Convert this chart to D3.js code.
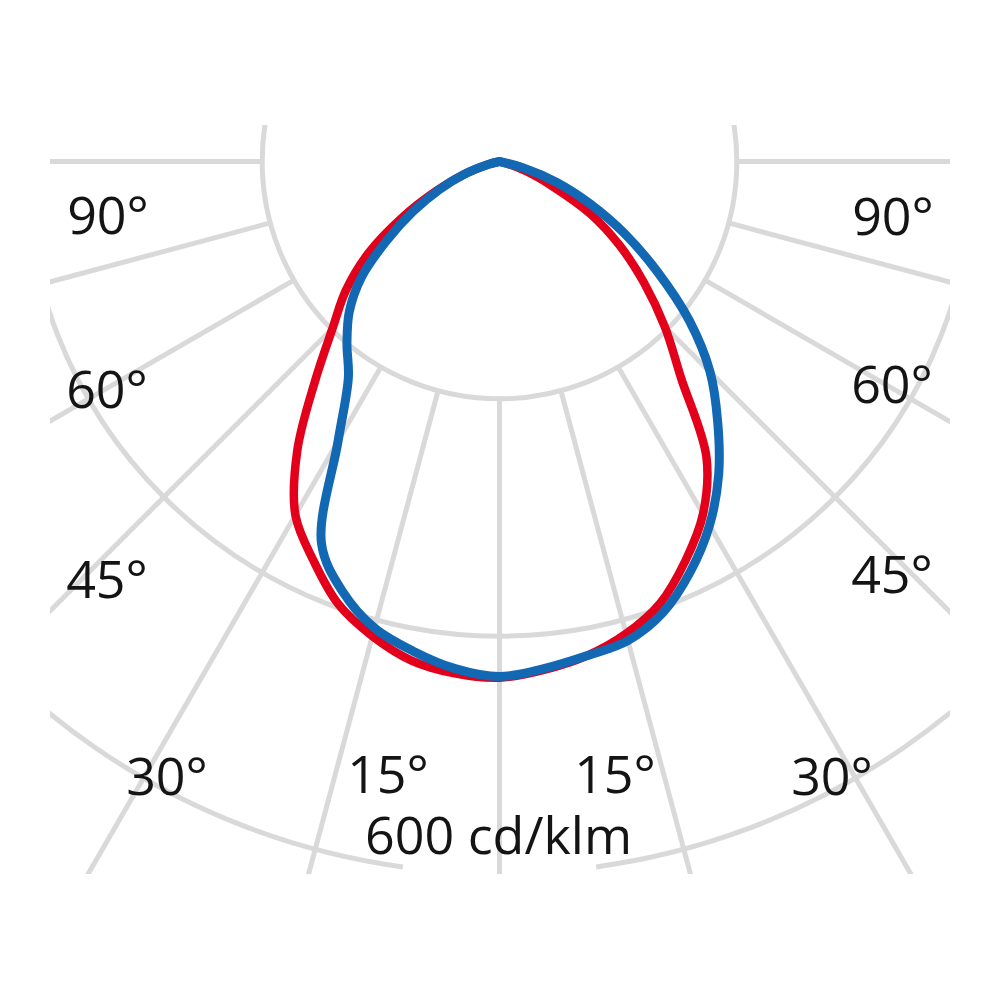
<!DOCTYPE html>
<html>
<head>
<meta charset="utf-8">
<script src="https://cdn.jsdelivr.net/npm/d3@7"></script>
<style>
  html, body { margin: 0; padding: 0; background: #fff; }
  svg { display: block; }
  text { font-family: "Open Sans", "Noto Sans", sans-serif; fill: #141414; }
</style>
</head>
<body>
<div class="app"></div>
<script>
// gamma angles from nadir (deg)
var angles = [0, 5, 10, 15, 20, 25, 30, 35, 40, 45, 50, 55, 60, 65, 70, 75, 80, 85, 90];

// red curve: C180 plane drawn left, C0 plane drawn right (cd/klm)
var redC180 = [435, 433, 427, 414, 397, 371, 344, 297, 242, 199, 169, 135, 95, 59, 32, 10, 0, 0, 0];
var redC0   = [435, 430, 423, 412, 396, 371, 343, 304, 238, 197, 159, 124, 89, 49, 24, 7, 0, 0, 0];

// blue curve: C270 plane drawn left, C90 plane drawn right (cd/klm)
var blueC270 = [434, 429, 419, 407, 386, 355, 272, 222, 200, 179, 152, 116, 84, 56, 32, 10, 0, 0, 0];
var blueC90  = [434, 429, 423, 418, 404, 381, 354, 322, 286, 251, 209, 163, 122, 84, 51, 21, 0, 0, 0];

// grid
var ringValues = [200, 400, 600];
var spokeAngles = [-90, -75, -60, -45, -30, -15, 0, 15, 30, 45, 60, 75, 90];

// tick labels (left to right) and unit
var angleLabels = ["90°", "60°", "45°", "30°", "15°", "15°", "30°", "45°", "60°", "90°"];
var unitLabel = "600 cd/klm";

var width = 1000, height = 1000,
    cx = 499.5, cy = 161.5,
    clip = {x: 50, y: 125, w: 900, h: 749},
    gap = 7.8; // degrees either side of nadir where the outer ring is left open

// label placement (centre x, baseline y)
var labelPos = [[108, 234], [107, 408], [107, 598], [167, 795], [388, 793],
                [615, 793], [832, 795], [892, 593], [892, 403], [893, 235]];
var unitPos = [498.5, 854];

var r = d3.scaleLinear().domain([0, 600]).range([0, 712]);
var rad = function(deg) { return deg * Math.PI / 180; };

var svg = d3.select(".app").append("svg")
    .attr("width", width)
    .attr("height", height);

svg.append("rect").attr("width", width).attr("height", height).attr("fill", "#fff");

svg.append("clipPath").attr("id", "gridclip")
  .append("rect")
    .attr("x", clip.x).attr("y", clip.y)
    .attr("width", clip.w).attr("height", clip.h);

var grid = svg.append("g")
    .attr("clip-path", "url(#gridclip)")
    .attr("fill", "none")
    .attr("stroke", "#d9d9d9")
    .attr("stroke-width", 5);

// rings; the outer one is open under the unit text
ringValues.forEach(function(v, i) {
  var p = d3.path();
  if (i === ringValues.length - 1) {
    p.arc(cx, cy, r(v), Math.PI / 2 + rad(gap), Math.PI * 2.5 - rad(gap));
  } else {
    p.arc(cx, cy, r(v), 0, Math.PI * 2);
  }
  grid.append("path").attr("d", p.toString());
});

// spokes start at the first ring
spokeAngles.forEach(function(a) {
  var t = rad(a), r0 = r(ringValues[0]), r1 = 1200;
  grid.append("line")
      .attr("x1", cx + r0 * Math.sin(t)).attr("y1", cy + r0 * Math.cos(t))
      .attr("x2", cx + r1 * Math.sin(t)).attr("y2", cy + r1 * Math.cos(t));
});

// build one closed curve from a left and right half plane
function curvePoints(left, right) {
  var pts = [{a: Math.PI, v: 0}];
  for (var i = angles.length - 1; i > 0; i--) {
    if (left[i] > 0) pts.push({a: Math.PI + rad(angles[i]), v: left[i]});
  }
  pts.push({a: Math.PI, v: (left[0] + right[0]) / 2});
  for (var j = 1; j < angles.length; j++) {
    if (right[j] > 0) pts.push({a: Math.PI - rad(angles[j]), v: right[j]});
  }
  pts.push({a: Math.PI, v: 0});
  return pts;
}

var line = d3.lineRadial()
    .angle(function(d) { return d.a; })
    .radius(function(d) { return r(d.v); })
    .curve(d3.curveCatmullRom.alpha(0.5));

var plot = svg.append("g").attr("transform", "translate(" + cx + "," + cy + ")");

plot.append("path")
    .datum(curvePoints(redC180, redC0))
    .attr("fill", "none")
    .attr("stroke", "#e2001a")
    .attr("stroke-width", 8.5)
    .attr("stroke-linejoin", "round")
    .attr("stroke-linecap", "round")
    .attr("d", line);

plot.append("path")
    .datum(curvePoints(blueC270, blueC90))
    .attr("fill", "none")
    .attr("stroke", "#1268b3")
    .attr("stroke-width", 9)
    .attr("stroke-linejoin", "round")
    .attr("stroke-linecap", "round")
    .attr("d", line);

// labels
svg.selectAll(".angle-label")
    .data(angleLabels)
  .enter().append("text")
    .attr("class", "angle-label")
    .attr("x", function(d, i) { return labelPos[i][0]; })
    .attr("y", function(d, i) { return labelPos[i][1]; })
    .attr("text-anchor", "middle")
    .attr("font-size", 52)
    .text(function(d) { return d; });

svg.append("text")
    .attr("x", unitPos[0])
    .attr("y", unitPos[1])
    .attr("text-anchor", "middle")
    .attr("font-size", 52)
    .text(unitLabel);
</script>
</body>
</html>
